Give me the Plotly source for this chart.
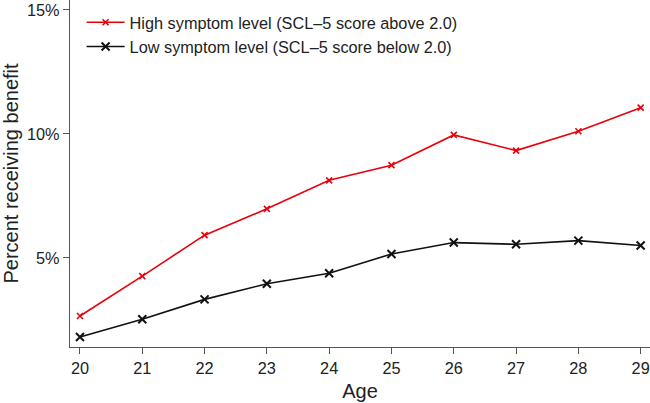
import plotly.graph_objects as go

# Datos
edad = [20, 21, 22, 23, 24, 25, 26, 27, 28, 29]
alto = [2.66, 4.27, 5.92, 6.98, 8.13, 8.74, 9.96, 9.33, 10.11, 11.06]
bajo = [1.81, 2.53, 3.33, 3.96, 4.38, 5.16, 5.62, 5.55, 5.70, 5.50]
y_ticks = [5, 10, 15]
y_labels = ["5%", "10%", "15%"]

fuente = "Liberation Sans, Arial, sans-serif"

fig = go.Figure()
fig.add_trace(go.Scatter(
    x=edad, y=alto, mode="lines+markers",
    name="High symptom level (SCL\u20135 score above 2.0)",
    line=dict(color="#e8000b", width=1.6),
    marker=dict(symbol="x-thin", size=6, line=dict(color="#e8000b", width=1.6)),
))
fig.add_trace(go.Scatter(
    x=edad, y=bajo, mode="lines+markers",
    name="Low symptom level (SCL\u20135 score below 2.0)",
    line=dict(color="#111111", width=1.6),
    marker=dict(symbol="x-thin", size=8, line=dict(color="#111111", width=2)),
))

fig.update_layout(
    width=650, height=403,
    plot_bgcolor="white", paper_bgcolor="white",
    margin=dict(l=70, r=0, t=0, b=56),
    font=dict(family=fuente, size=16.3, color="#222222"),
    legend=dict(x=0.02, y=0.985, xanchor="left", yanchor="top",
                bgcolor="rgba(0,0,0,0)", font=dict(size=16.3),
                itemwidth=38, tracegroupgap=0),
    xaxis=dict(
        title=dict(text="Age", standoff=8),
        range=[19.84, 29.15], tickvals=edad,
        showline=True, linecolor="#555555", linewidth=1.3,
        ticks="outside", ticklen=6, tickcolor="#555555",
        showgrid=False, zeroline=False, automargin=False,
    ),
    yaxis=dict(
        title=dict(text="Percent receiving benefit", standoff=8),
        range=[1.41, 15.4], tickvals=y_ticks, ticktext=y_labels,
        showline=True, linecolor="#555555", linewidth=1.3,
        ticks="outside", ticklen=6, tickcolor="#555555",
        showgrid=False, zeroline=False, automargin=False,
    ),
)

# quitar el margen por defecto del body
fig.write_html("out.html", config={"displayModeBar": False},
               post_script="document.body.style.margin='0';")
